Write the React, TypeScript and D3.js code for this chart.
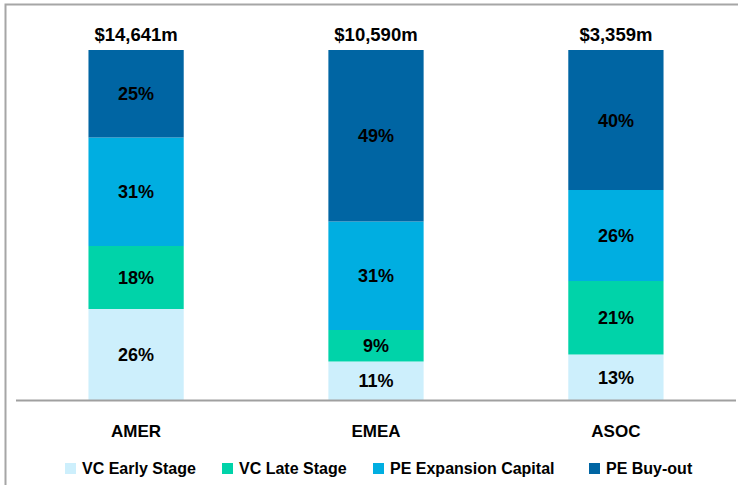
import React, { useEffect, useRef } from 'react';
import * as d3 from 'd3';

const regions = ['AMER', 'EMEA', 'ASOC'];
const totals = ['$14,641m', '$10,590m', '$3,359m'];
const seriesNames = ['VC Early Stage', 'VC Late Stage', 'PE Expansion Capital', 'PE Buy-out'];
const vcEarly = [26, 11, 13];
const vcLate = [18, 9, 21];
const peExpansion = [31, 31, 26];
const peBuyout = [25, 49, 40];
const colors = ['#CDEFFC', '#00D3A9', '#00AEE1', '#0065A3'];

const App = () => {
  const svgRef = useRef<SVGSVGElement>(null);

  useEffect(() => {
    const svg = d3.select(svgRef.current);
    svg.selectAll('*').remove();
    const width = 738;
    const height = 485;
    const font = '"Liberation Sans", Arial, sans-serif';

    const data = regions.map((r, i) => ({
      region: r,
      [seriesNames[0]]: vcEarly[i],
      [seriesNames[1]]: vcLate[i],
      [seriesNames[2]]: peExpansion[i],
      [seriesNames[3]]: peBuyout[i],
    }));

    const x = d3.scaleBand()
      .domain(regions)
      .range([16.5, 735.5])
      .paddingInner(0.603)
      .paddingOuter(0.3);

    const y = d3.scaleLinear().domain([0, 100]).range([400, 50]);

    const color = d3.scaleOrdinal<string>().domain(seriesNames).range(colors);

    // chart frame (left + top only)
    svg.append('path')
      .attr('d', `M5.5,${height} V4.5 H${width}`)
      .attr('fill', 'none')
      .attr('stroke', '#A6A6A6')
      .attr('stroke-width', 2);

    const stack = d3.stack<any>().keys(seriesNames);
    const layers = svg.append('g')
      .selectAll('g')
      .data(stack(data))
      .enter().append('g')
      .attr('fill', d => color(d.key));

    layers.selectAll('rect')
      .data(d => d)
      .enter().append('rect')
      .attr('x', d => x(d.data.region)!)
      .attr('y', d => y(d[1]))
      .attr('height', d => y(d[0]) - y(d[1]))
      .attr('width', x.bandwidth());

    layers.selectAll('text')
      .data(d => d)
      .enter().append('text')
      .attr('x', d => x(d.data.region)! + x.bandwidth() / 2)
      .attr('y', d => (y(d[0]) + y(d[1])) / 2 + 6.5)
      .attr('text-anchor', 'middle')
      .attr('fill', '#000')
      .attr('font-family', font)
      .attr('font-weight', 'bold')
      .attr('font-size', 18)
      .text(d => `${d[1] - d[0]}%`);

    // totals above bars
    svg.append('g')
      .selectAll('text')
      .data(regions)
      .enter().append('text')
      .attr('x', d => x(d)! + x.bandwidth() / 2)
      .attr('y', 41)
      .attr('text-anchor', 'middle')
      .attr('font-family', font)
      .attr('font-weight', 'bold')
      .attr('font-size', 18.5)
      .text((d, i) => totals[i]);

    // x axis
    const axis = svg.append('g')
      .attr('transform', 'translate(0,400.5)')
      .call(d3.axisBottom(x).tickSize(0).tickPadding(24));
    axis.select('.domain')
      .attr('d', `M16,0 H736`)
      .attr('stroke', '#A0A0A0')
      .attr('stroke-width', 2);
    axis.selectAll('text')
      .attr('font-family', font)
      .attr('font-weight', 'bold')
      .attr('font-size', 17)
      .attr('fill', '#000');

    // legend
    const legendX = [65, 222, 373, 589];
    const legend = svg.append('g')
      .selectAll('g')
      .data(seriesNames)
      .enter().append('g')
      .attr('transform', (d, i) => `translate(${legendX[i]},463)`);
    legend.append('rect')
      .attr('width', 11)
      .attr('height', 11)
      .attr('fill', d => color(d));
    legend.append('text')
      .attr('x', 17)
      .attr('y', 11)
      .attr('font-family', font)
      .attr('font-weight', 'bold')
      .attr('font-size', 16)
      .text(d => d);
  }, []);

  return (
    <svg ref={svgRef} width={738} height={485}
      style={{ position: 'absolute', left: 0, top: 0, background: '#fff' }} />
  );
};

export default App;
